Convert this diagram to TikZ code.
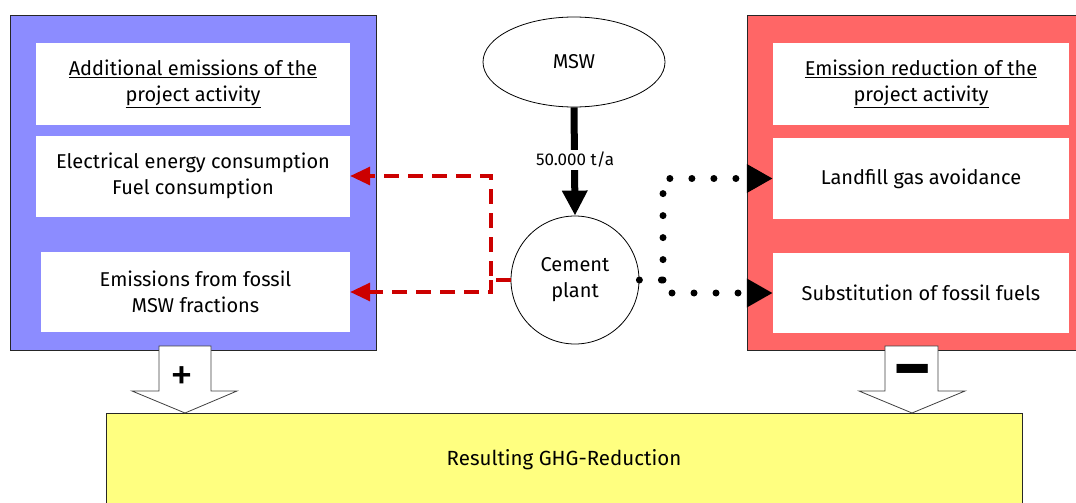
\documentclass[tikz,border=0pt]{standalone}
\usepackage{fontspec}
\usepackage{graphicx}
\setmainfont{Fira Sans}
\usetikzlibrary{arrows.meta,shapes.geometric}
\definecolor{bluebg}{RGB}{140,140,255}
\definecolor{redbg}{RGB}{255,102,102}
\definecolor{yellowbg}{RGB}{255,255,128}
\definecolor{darkred}{RGB}{204,0,0}
\newcommand{\bodysize}{\fontsize{20}{26}\selectfont}
\begin{document}
\begin{tikzpicture}[x=1pt,y=-1pt,
  panel/.style={draw=black!85, line width=0.9pt, inner sep=0pt},
  whitebox/.style={fill=white, inner sep=0pt, align=center, font=\bodysize},
  blockarrow/.style={draw=black!75, line width=0.8pt, fill=white},
  reddash/.style={draw=darkred, line width=3.3pt, dash pattern=on 15pt off 9pt, -{Triangle[width=18pt,length=20pt]}},
  blackdots/.style={draw=black, line width=7pt, line cap=round, dash pattern=on 0pt off 22pt, -{Triangle[width=27pt,length=26pt]}},
  flowarrow/.style={draw=black, line width=7pt, -{Triangle[width=24pt,length=25pt]}}
]
\useasboundingbox (0,0) rectangle (1076,503);
% panels
\node[panel, fill=bluebg, minimum width=366pt, minimum height=335pt] (blue) at (193,182.5) {};
\node[panel, fill=redbg, minimum width=333pt, minimum height=335pt] (red) at (913.5,182.5) {};
% left inner boxes
\node[whitebox, minimum width=314pt, minimum height=81pt] (b1) at (193,84) {\underline{Additional emissions of the}\\\underline{project activity}};
\node[whitebox, minimum width=314pt, minimum height=81pt] (b2) at (193,176) {Electrical energy consumption\\Fuel consumption};
\node[whitebox, minimum width=309pt, minimum height=80pt] (b3) at (195.5,292) {Emissions from fossil\\MSW fractions};
% right inner boxes
\node[whitebox, minimum width=296pt, minimum height=81pt] (r1) at (921,84) {\underline{Emission reduction of the}\\\underline{project activity}};
\node[whitebox, minimum width=296pt, minimum height=81pt] (r2) at (921,178.5) {Landfill gas avoidance};
\node[whitebox, minimum width=296pt, minimum height=80pt] (r3) at (921,293) {Substitution of fossil fuels};
% center
\node[ellipse, draw=black, line width=0.8pt, minimum width=182pt, minimum height=90pt, font=\bodysize] (msw) at (574,62) {MSW};
\node[circle, draw=black, line width=0.8pt, minimum size=128pt, inner sep=0pt, align=center, font=\bodysize] (cement) at (575,280) {Cement\\plant};
\draw[flowarrow] (msw.south) -- (cement.north);
\node[fill=white, inner sep=2pt, font=\fontsize{17}{18}\selectfont] (flowlabel) at (575,160) {50.000 t/a};
% red dashed
\coordinate (rj) at (491,280);
\draw[reddash] (cement.west) -- (rj) |- (b2.east);
\draw[reddash] (rj) |- (b3.east);
% black dotted
\coordinate (bj) at (663,280);
\draw[blackdots] (cement.east) -- (bj) |- (r2.west);
\draw[blackdots] (bj) |- (r3.west);
% result box
\node[panel, fill=yellowbg, minimum width=916pt, minimum height=100pt, anchor=north west] (result) at (106,413) {};
\node[font=\fontsize{20.5}{24}\selectfont] (resulttext) at (564,460) {Resulting GHG-Reduction};
% block arrows
\draw[blockarrow] (159,346) -- (211,346) -- (211,391) -- (237,391) -- (185,413) -- (132,391) -- (159,391) -- cycle;
\draw[blockarrow] (885,346) -- (938,346) -- (938,391) -- (965,391) -- (912,413) -- (859,391) -- (885,391) -- cycle;
\node[font=\fontsize{46}{46}\selectfont, inner sep=0pt] (plus) at (182,379) {+};
\node[font=\fontsize{74}{74}\selectfont\bfseries, inner sep=0pt] (minus) at (913,379) {−};
\end{tikzpicture}
\end{document}
